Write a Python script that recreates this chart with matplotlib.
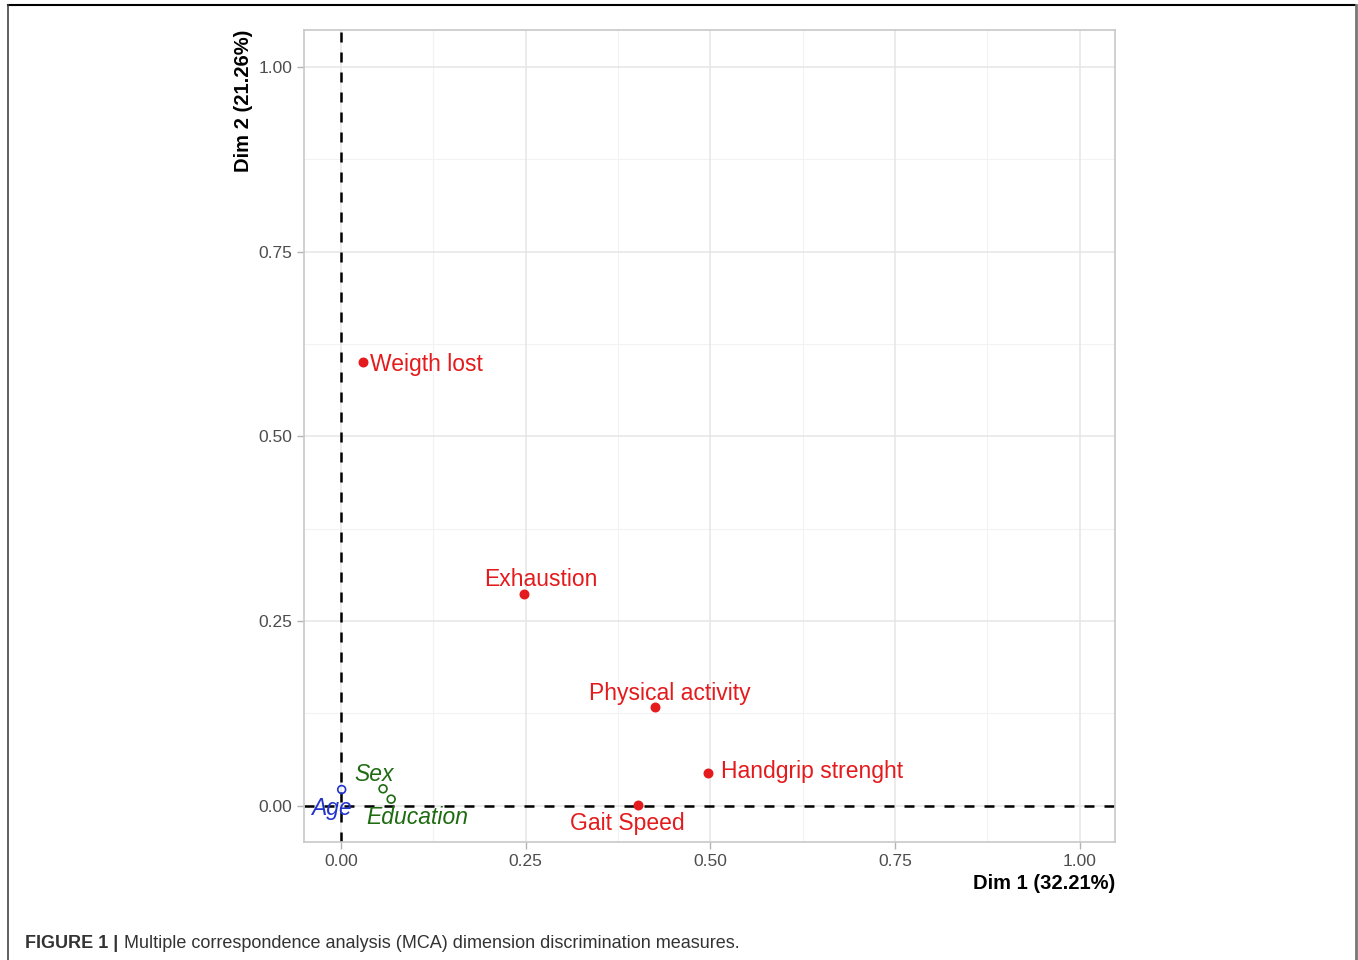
import matplotlib.pyplot as plt
from matplotlib.lines import Line2D

plt.rcParams["font.family"] = ["Liberation Sans", "DejaVu Sans"]

# Medidas de discriminación (Dim 1, Dim 2)
active_names = ["Weigth lost", "Exhaustion", "Physical activity", "Handgrip strenght", "Gait Speed"]
active_x = [0.030, 0.248, 0.425, 0.497, 0.402]
active_y = [0.600, 0.287, 0.134, 0.045, 0.001]

suppl_green_names = ["Sex", "Education"]
suppl_green_x = [0.057, 0.068]
suppl_green_y = [0.023, 0.009]

suppl_blue_names = ["Age"]
suppl_blue_x = [0.001]
suppl_blue_y = [0.022]

ticks = [0.00, 0.25, 0.50, 0.75, 1.00]
tick_labels = ["0.00", "0.25", "0.50", "0.75", "1.00"]

fig = plt.figure(figsize=(13.58, 9.60), dpi=100)
ax = fig.add_axes([304 / 1358, 1 - 842 / 960, (1115 - 304) / 1358, (842 - 30) / 960])

red = "#E41A1C"
green = "#1E6B12"
blue = "#2233CC"

# Rejilla estilo ggplot
minor = [0.125, 0.375, 0.625, 0.875]
for v in minor:
    ax.axvline(v, color="#F2F2F2", lw=0.8, zorder=0)
    ax.axhline(v, color="#F2F2F2", lw=0.8, zorder=0)
for v in ticks:
    ax.axvline(v, color="#E5E5E5", lw=1.1, zorder=0)
    ax.axhline(v, color="#E5E5E5", lw=1.1, zorder=0)

ax.axvline(0, color="black", lw=1.8, ls=(0, (4, 4)), zorder=1)
ax.axhline(0, color="black", lw=1.8, ls=(0, (4, 4)), zorder=1)

ax.scatter(active_x, active_y, s=38, color=red, zorder=3)
ax.scatter(suppl_green_x, suppl_green_y, s=32, facecolors="none", edgecolors=green, lw=1.2, zorder=3)
ax.scatter(suppl_blue_x, suppl_blue_y, s=32, facecolors="none", edgecolors=blue, lw=1.2, zorder=3)

# Etiquetas
fs = 16.5
ax.text(active_x[0] + 0.009, active_y[0] - 0.003, active_names[0], color=red, fontsize=fs, ha="left", va="center")
ax.text(active_x[1] + 0.023, active_y[1] + 0.019, active_names[1], color=red, fontsize=fs, ha="center", va="center")
ax.text(active_x[2] + 0.020, active_y[2] + 0.018, active_names[2], color=red, fontsize=fs, ha="center", va="center")
ax.text(active_x[3] + 0.017, active_y[3] + 0.002, active_names[3], color=red, fontsize=fs, ha="left", va="center")
ax.text(active_x[4] - 0.014, active_y[4] - 0.025, active_names[4], color=red, fontsize=fs, ha="center", va="center")
ax.text(suppl_green_x[0] - 0.012, suppl_green_y[0] + 0.019, suppl_green_names[0], color=green, fontsize=fs,
        style="italic", ha="center", va="center")
ax.text(suppl_green_x[1] + 0.036, suppl_green_y[1] - 0.025, suppl_green_names[1], color=green, fontsize=fs,
        style="italic", ha="center", va="center")
ax.text(suppl_blue_x[0] - 0.014, suppl_blue_y[0] - 0.025, suppl_blue_names[0], color=blue, fontsize=fs,
        style="italic", ha="center", va="center")

ax.set_xlim(-0.05, 1.048)
ax.set_ylim(-0.049, 1.05)
ax.set_xticks(ticks)
ax.set_xticklabels(tick_labels)
ax.set_yticks(ticks)
ax.set_yticklabels(tick_labels)
ax.tick_params(colors="#B3B3B3", labelcolor="#4D4D4D", labelsize=12.5, length=5, width=1)
for s in ax.spines.values():
    s.set_color("#C8C8C8")
    s.set_linewidth(1.2)

ax.set_xlabel("Dim 1 (32.21%)", fontsize=14.5, fontweight="bold", loc="right", labelpad=4)
ax.set_ylabel("Dim 2 (21.26%)", fontsize=14.5, fontweight="bold", loc="top", labelpad=4)

# Marco exterior
fig.add_artist(Line2D([8 / 1358, 1355 / 1358], [1 - 5 / 960, 1 - 5 / 960], color="black", lw=1.5))
fig.add_artist(Line2D([8 / 1358, 8 / 1358], [0, 1 - 5 / 960], color="#444444", lw=1.2))
fig.add_artist(Line2D([1356 / 1358, 1356 / 1358], [0, 1 - 5 / 960], color="#777777", lw=2))

# Pie de figura
fig.text(25 / 1358, 1 - 943 / 960, "FIGURE 1 |", fontsize=13, fontweight="bold", color="#333333", va="center")
fig.text(124 / 1358, 1 - 943 / 960, "Multiple correspondence analysis (MCA) dimension discrimination measures.",
         fontsize=13, color="#333333", va="center")

fig.savefig("out.png", dpi=100)
